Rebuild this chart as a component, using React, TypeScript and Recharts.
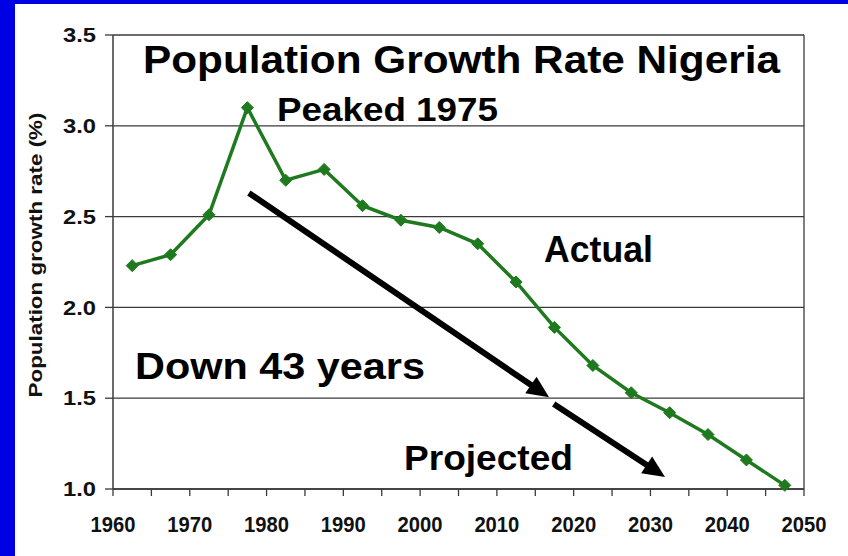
import React from 'react';
import {
  LineChart,
  Line,
  XAxis,
  YAxis,
  CartesianGrid,
  ReferenceLine,
} from 'recharts';

// Five-year period midpoints and the growth rate (%) for each period
const periodMidYears = [
  1962.5, 1967.5, 1972.5, 1977.5, 1982.5, 1987.5, 1992.5, 1997.5, 2002.5,
  2007.5, 2012.5, 2017.5, 2022.5, 2027.5, 2032.5, 2037.5, 2042.5, 2047.5,
];
const growthRates = [
  2.23, 2.29, 2.51, 3.1, 2.7, 2.76, 2.56, 2.48, 2.44, 2.35, 2.14, 1.89, 1.68,
  1.53, 1.42, 1.3, 1.16, 1.02,
];

// Axis ticks: a tick every five years, a label every ten
const yearTicks = [
  1960, 1965, 1970, 1975, 1980, 1985, 1990, 1995, 2000, 2005, 2010, 2015, 2020,
  2025, 2030, 2035, 2040, 2045, 2050,
];
const rateTicks = [1.0, 1.5, 2.0, 2.5, 3.0, 3.5];

// Trend arrows (year, rate) start and end points
const trendArrows = [
  { from: [1977.7, 2.63], to: [2016.8, 1.505] },
  { from: [2017.4, 1.468], to: [2031.9, 1.066] },
];

const data = periodMidYears.map((year, i) => ({ year, rate: growthRates[i] }));

const GREEN = '#1f7a1f';
const GRID = '#3a3a3a';
const FONT = '"Liberation Sans", Arial, Helvetica, sans-serif';

const Diamond = (props: any) => {
  const { cx, cy } = props;
  if (cx == null || cy == null) return null;
  const r = 6;
  return (
    <polygon
      points={`${cx},${cy - r} ${cx + r},${cy} ${cx},${cy + r} ${cx - r},${cy}`}
      fill={GREEN}
      stroke={GREEN}
      strokeWidth={1}
    />
  );
};

const ArrowShape = (props: any) => {
  const { x1, y1, x2, y2 } = props;
  if ([x1, y1, x2, y2].some((v) => v == null || isNaN(v))) return null;
  const dx = x2 - x1;
  const dy = y2 - y1;
  const len = Math.hypot(dx, dy);
  const ux = dx / len;
  const uy = dy / len;
  const headLen = 22;
  const headHalf = 10;
  const bx = x2 - ux * headLen;
  const by = y2 - uy * headLen;
  const nx = -uy;
  const ny = ux;
  return (
    <g>
      <line
        x1={x1}
        y1={y1}
        x2={bx + ux * 2}
        y2={by + uy * 2}
        stroke="#000"
        strokeWidth={6}
      />
      <polygon
        points={`${x2},${y2} ${bx + nx * headHalf},${by + ny * headHalf} ${bx - nx * headHalf},${by - ny * headHalf}`}
        fill="#000"
      />
    </g>
  );
};

// Year labels: tall, slightly condensed bold digits, only on the decades
const YearTick = (props: any) => {
  const { x, y, payload } = props;
  const v = payload?.value;
  if (v == null || v % 10 !== 0) return null;
  return (
    <text
      x={x}
      y={y}
      dy="0.71em"
      textAnchor="middle"
      fontFamily={FONT}
      fontWeight={700}
      fontSize={22}
      textLength={45}
      lengthAdjust="spacingAndGlyphs"
      fill="#111"
    >
      {String(v)}
    </text>
  );
};

const RateTick = (props: any) => {
  const { x, y, payload } = props;
  const v = payload?.value;
  if (v == null) return null;
  return (
    <text
      x={x - 33}
      y={y}
      dy="0.355em"
      textAnchor="start"
      fontFamily={FONT}
      fontWeight={700}
      fontSize={20}
      textLength={33}
      lengthAdjust="spacingAndGlyphs"
      fill="#111"
    >
      {Number(v).toFixed(1)}
    </text>
  );
};

const boldText = {
  fontFamily: FONT,
  fontWeight: 700,
  fill: '#000',
} as const;

export default function App() {
  return (
    <div
      style={{
        position: 'absolute',
        left: 0,
        top: 0,
        width: 848,
        height: 556,
        background: '#0000e4',
        overflow: 'hidden',
      }}
    >
      <div
        style={{
          position: 'absolute',
          left: 15,
          top: 4,
          width: 833,
          height: 552,
          background: '#ffffff',
        }}
      >
        <LineChart
          width={833}
          height={552}
          data={data}
          margin={{ top: 31, right: 44, bottom: 27, left: 38 }}
        >
          <CartesianGrid
            vertical={false}
            stroke={GRID}
            strokeWidth={1.3}
          />
          <XAxis
            dataKey="year"
            type="number"
            domain={[1960, 2050]}
            ticks={yearTicks}
            interval={0}
            height={40}
            tickSize={7}
            tickMargin={20}
            axisLine={{ stroke: GRID, strokeWidth: 1.5 }}
            tickLine={{ stroke: GRID, strokeWidth: 1.3 }}
            tick={<YearTick />}
          />
          <YAxis
            type="number"
            domain={[1, 3.5]}
            ticks={rateTicks}
            interval={0}
            width={60}
            tickSize={8}
            tickMargin={9}
            axisLine={{ stroke: GRID, strokeWidth: 1.5 }}
            tickLine={{ stroke: GRID, strokeWidth: 1.3 }}
            tick={<RateTick />}
          />
          <ReferenceLine x={2050} stroke={GRID} strokeWidth={1.3} />
          {trendArrows.map((a, i) => (
            <ReferenceLine
              key={i}
              segment={[
                { x: a.from[0], y: a.from[1] },
                { x: a.to[0], y: a.to[1] },
              ]}
              shape={ArrowShape}
              ifOverflow="visible"
            />
          ))}
          <Line
            type="linear"
            dataKey="rate"
            stroke={GREEN}
            strokeWidth={3.5}
            dot={<Diamond />}
            activeDot={false}
            isAnimationActive={false}
          />
          <g>
            <text
              x={21}
              y={251}
              transform="rotate(-90 21 251)"
              textAnchor="middle"
              dominantBaseline="central"
              fontSize={18}
              textLength={285}
              lengthAdjust="spacingAndGlyphs"
              {...boldText}
              fill="#111"
            >
              Population growth rate (%)
            </text>
            <text x={128} y={69} fontSize={39} textLength={637} lengthAdjust="spacingAndGlyphs" {...boldText}>
              Population Growth Rate Nigeria
            </text>
            <text x={262} y={117} fontSize={33} textLength={221} lengthAdjust="spacingAndGlyphs" {...boldText}>
              Peaked 1975
            </text>
            <text x={529} y={258} fontSize={36} textLength={109} lengthAdjust="spacingAndGlyphs" {...boldText}>
              Actual
            </text>
            <text x={120} y={375} fontSize={36} textLength={290} lengthAdjust="spacingAndGlyphs" {...boldText}>
              Down 43 years
            </text>
            <text x={389} y={466} fontSize={35} textLength={169} lengthAdjust="spacingAndGlyphs" {...boldText}>
              Projected
            </text>
          </g>
        </LineChart>
      </div>
    </div>
  );
}
